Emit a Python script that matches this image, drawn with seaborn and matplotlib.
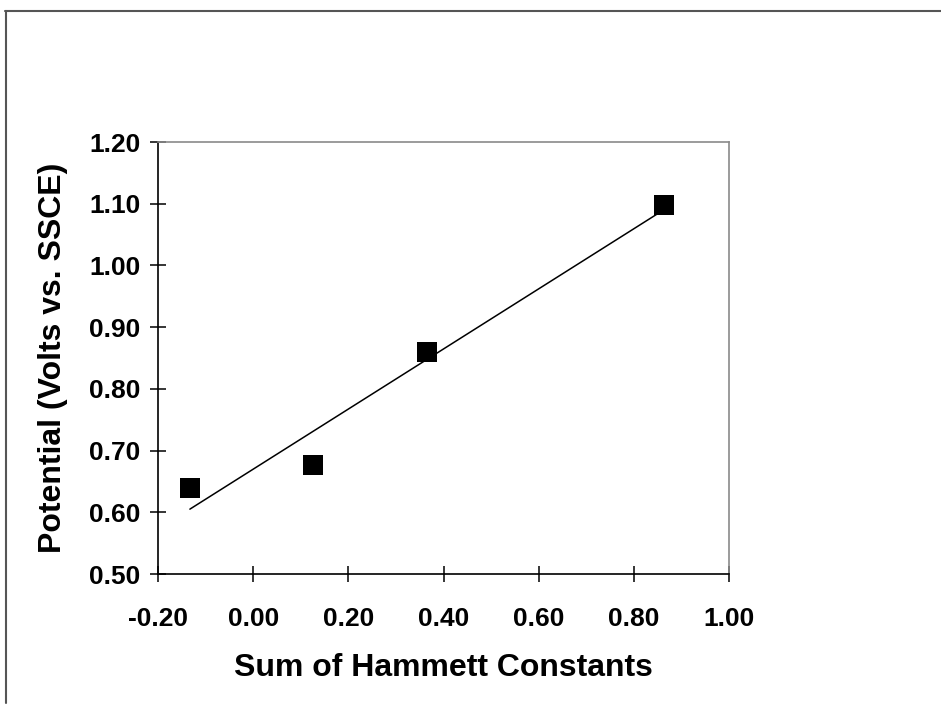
import matplotlib
matplotlib.use("Agg")
import matplotlib.pyplot as plt
from matplotlib.lines import Line2D
import numpy as np
import pandas as pd
import seaborn as sns

# Data
hammett_sum = [-0.133, 0.126, 0.365, 0.863]
potential = [0.639, 0.677, 0.860, 1.098]
x_ticks = [-0.20, 0.00, 0.20, 0.40, 0.60, 0.80, 1.00]
y_ticks = [0.50, 0.60, 0.70, 0.80, 0.90, 1.00, 1.10, 1.20]

df = pd.DataFrame({"x": hammett_sum, "y": potential})

sns.set_style("white")
plt.rcParams["font.family"] = ["Liberation Sans", "DejaVu Sans"]
plt.rcParams["font.weight"] = "bold"
plt.rcParams["text.color"] = "black"
plt.rcParams["axes.labelcolor"] = "black"
plt.rcParams["xtick.color"] = "black"
plt.rcParams["ytick.color"] = "black"

fig = plt.figure(figsize=(9.41, 7.05), dpi=100)
ax = fig.add_axes([158 / 941, 1 - 574 / 705, (729 - 158) / 941, (574 - 142) / 705])

sns.regplot(data=df, x="x", y="y", ax=ax, ci=None, truncate=True,
            marker="s",
            scatter_kws={"s": 205, "color": "black", "alpha": 1,
                         "linewidths": 0, "zorder": 3},
            line_kws={"color": "black", "lw": 1.1, "zorder": 2})

ax.set_xlim(-0.20, 1.00)
ax.set_ylim(0.50, 1.20)
ax.set_xticks(x_ticks)
ax.set_yticks(y_ticks)
ax.set_xticklabels([f"{v:.2f}" for v in x_ticks], fontsize=19, fontweight="bold")
ax.set_yticklabels([f"{v:.2f}" for v in y_ticks], fontsize=19, fontweight="bold")
ax.tick_params(axis="both", which="major", direction="inout", length=11, width=1.1,
               color="black", labelcolor="black",
               bottom=True, left=True, top=False, right=False)
ax.tick_params(axis="x", pad=18)
ax.tick_params(axis="y", pad=7)

ax.set_xlabel("Sum of Hammett Constants", fontsize=23, fontweight="bold",
              labelpad=16, color="black")
ax.set_ylabel("Potential (Volts vs. SSCE)", fontsize=23, fontweight="bold",
              labelpad=15, color="black")

for s in ["left", "bottom"]:
    ax.spines[s].set_color("black")
    ax.spines[s].set_linewidth(1.2)
for s in ["top", "right"]:
    ax.spines[s].set_color("#8a8a8a")
    ax.spines[s].set_linewidth(1.2)

# figure frame (top and left edges)
fig.add_artist(Line2D([5 / 941, 1.0], [1 - 11 / 705, 1 - 11 / 705],
                      transform=fig.transFigure, color="#555555", lw=1.5))
fig.add_artist(Line2D([6 / 941, 6 / 941], [1 - 11 / 705, 1 - 703 / 705],
                      transform=fig.transFigure, color="#555555", lw=1.5))

fig.savefig("out.png", dpi=100, facecolor="white")
